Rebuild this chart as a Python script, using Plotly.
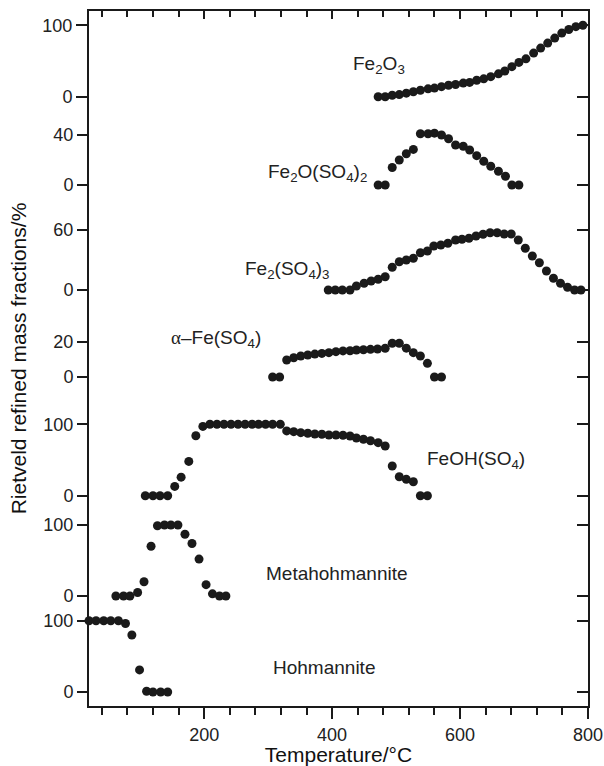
import plotly.graph_objects as go

# ---- Rietveld-refined mass fractions (%) vs. temperature (°C) ----
hoh_T = [20, 31, 43, 54, 66, 77, 87, 99, 110, 120, 132, 143]
hoh_w = [100, 100, 100, 100, 100, 96, 80, 31, 1, 0, 0, 0]

meta_T = [62, 74, 84, 96, 106, 117, 127, 138, 148, 159, 170, 181, 192, 203, 213, 224, 234]
meta_w = [0, 0, 0, 5, 20, 70, 99, 100, 100, 100, 87, 74, 52, 16, 3, 0, 0]

feoh_T = [108, 120, 131, 143, 154, 164, 176, 187, 198, 209, 220, 231, 242, 253, 264,
          275, 285, 296, 307, 319, 329, 340, 351, 362, 373, 384, 395, 406, 417, 428,
          438, 449, 460, 472, 483, 494, 505, 516, 527, 538, 549]
feoh_w = [0, 0, 0, 0, 13, 26, 48, 84, 97, 100, 100, 100, 100, 100, 100,
          100, 100, 100, 100, 100, 90.7, 89.7, 88.3, 87.4, 86.4, 86, 85, 85, 84.6, 83.6,
          80.8, 79, 77, 74.3, 69.6, 41.6, 26.6, 22.9, 19.6, 0, 0]

afeso4_T = [307, 318, 329, 340, 351, 362, 373, 384, 395, 406, 417, 428, 438, 449, 460,
            471, 483, 494, 505, 516, 527, 538, 549, 560, 571]
afeso4_w = [0, 0, 9.7, 11, 12, 12.6, 13.1, 13.5, 13.9, 14.5, 14.9, 15, 15.4, 15.6, 15.8,
            16, 16.4, 19.3, 19.3, 16.5, 13.9, 12, 7.8, 0, 0]

fe2so43_T = [394, 405, 416, 428, 438, 450, 461, 472, 483, 494, 505, 516, 527, 538, 549,
             559, 570, 581, 593, 603, 614, 625, 636, 647, 658, 669, 680, 691, 702, 713,
             724, 735, 746, 757, 768, 779, 789]
fe2so43_w = [0, 0, 0, 0, 4, 6.7, 9, 10.7, 13.3, 22.7, 28.3, 30, 31.7, 37.3, 39,
             44, 45, 46.7, 50, 50.7, 51.7, 54, 55.7, 57.3, 57.3, 56, 56, 50, 41.7, 34,
             27.3, 19, 11.7, 6.7, 2.7, 0, 0]

fe2oso42_T = [472, 483, 494, 505, 516, 527, 538, 550, 560, 571, 582, 593, 605, 615, 626,
              637, 648, 660, 671, 681, 692]
fe2oso42_w = [0, 0, 14, 20, 25, 28.5, 41, 41, 41.5, 40, 37, 32, 31, 28, 23.5,
              19, 15, 11, 7, 0, 0]

fe2o3_T = [472, 483, 494, 505, 516, 527, 538, 550, 560, 571, 582, 593, 605, 615, 626,
           637, 648, 660, 670, 681, 692, 703, 715, 726, 737, 748, 759, 770, 781, 792]
fe2o3_w = [0, 0, 2, 3, 5, 7, 9, 11, 12, 14, 16, 17, 19, 20, 23,
           25, 28, 32, 36, 42, 48, 53, 61, 68, 75, 82, 89, 94, 98, 100]

# panel order from top to bottom
phase_names = ["Fe<sub>2</sub>O<sub>3</sub>",
               "Fe<sub>2</sub>O(SO<sub>4</sub>)<sub>2</sub>",
               "Fe<sub>2</sub>(SO<sub>4</sub>)<sub>3</sub>",
               "<span style=\"font-family:Liberation Serif\">α</span>–Fe(SO<sub>4</sub>)",
               "FeOH(SO<sub>4</sub>)",
               "Metahohmannite",
               "Hohmannite"]
phase_T = [fe2o3_T, fe2oso42_T, fe2so43_T, afeso4_T, feoh_T, meta_T, hoh_T]
phase_w = [fe2o3_w, fe2oso42_w, fe2so43_w, afeso4_w, feoh_w, meta_w, hoh_w]
panel_ticks = [[0, 100], [0, 40], [0, 60], [0, 20], [0, 100], [0, 100], [0, 100]]

# label anchor for each phase, in that panel's own data units
label_T = [474, 377, 331, 218, 625, 408, 388]
label_w = [44, 9.6, 20, 21.7, 50, 32.4, 35]

# ---- geometry ----
W, H = 604, 766
M_L, M_R, M_T, M_B = 89, 16, 11, 60
# pixel row of each panel's zero line and its pixels per percent
panel_zero_px = [96.7, 185, 290, 377, 495.7, 596, 692]
panel_scale = [0.715, 1.25, 1.0, 1.75, 0.714, 0.71, 0.713]

FONT = "Liberation Sans, Arial, Helvetica, sans-serif"
INK = "#1a1a1a"


def panel_range(zero_px, scale):
    return [-(H - M_B - zero_px) / scale, (zero_px - M_T) / scale]


fig = go.Figure()
layout = dict(
    width=W, height=H,
    margin=dict(l=M_L, r=M_R, t=M_T, b=M_B, autoexpand=False),
    paper_bgcolor="white", plot_bgcolor="rgba(0,0,0,0)",
    showlegend=False,
    font=dict(family=FONT, color=INK),
    annotations=[],
)

for i in range(7):
    yid = "y" if i == 0 else f"y{i + 1}"
    rid = f"y{i + 8}"
    rng = panel_range(panel_zero_px[i], panel_scale[i])

    fig.add_trace(go.Scatter(
        x=phase_T[i], y=phase_w[i], xaxis="x", yaxis=yid,
        mode="markers", cliponaxis=False,
        marker=dict(size=9, color=INK, line=dict(width=0)),
        hoverinfo="x+y",
    ))
    # transparent twin on the right-hand axis so that axis gets drawn
    fig.add_trace(go.Scatter(
        x=phase_T[i], y=phase_w[i], xaxis="x", yaxis=rid,
        mode="markers", marker=dict(size=9, opacity=0),
        hoverinfo="skip",
    ))

    left = dict(
        range=rng, domain=[0, 1], anchor="x", side="left",
        tickmode="array", tickvals=panel_ticks[i],
        ticks="outside", ticklen=11, tickwidth=1.6, tickcolor=INK,
        tickfont=dict(size=18, color="#222", family=FONT),
        showgrid=False, zeroline=False,
        showline=(i == 0), linewidth=2, linecolor=INK,
        fixedrange=True,
    )
    if i > 0:
        left["overlaying"] = "y"
    else:
        left["title"] = dict(text="Rietveld refined mass fractions/%",
                             font=dict(size=21, color="#111", family=FONT),
                             standoff=10)
    layout["yaxis" if i == 0 else f"yaxis{i + 1}"] = left

    # mirrored ticks on the right-hand side, pointing into the plot
    layout[f"yaxis{i + 8}"] = dict(
        range=rng, anchor="x", side="right", overlaying="y",
        tickmode="array", tickvals=panel_ticks[i],
        ticks="inside", ticklen=11, tickwidth=1.6, tickcolor=INK,
        showticklabels=False, showgrid=False, zeroline=False,
        showline=(i == 0), linewidth=2, linecolor=INK,
        fixedrange=True,
    )

    layout["annotations"].append(dict(
        text=phase_names[i], x=label_T[i], y=label_w[i],
        xref="x", yref=yid, showarrow=False,
        xanchor="center", yanchor="middle",
        font=dict(size=19, color="#222", family=FONT),
    ))

layout["xaxis"] = dict(
    range=[20, 800], anchor="y", side="bottom",
    tick0=0, dtick=200, ticks="outside", ticklen=11, tickwidth=1.6, tickcolor=INK,
    minor=dict(tick0=0, dtick=40, ticks="outside", ticklen=7, tickwidth=1.6, tickcolor=INK),
    tickfont=dict(size=18, color="#222", family=FONT),
    showgrid=False, zeroline=False, showline=True, linewidth=2, linecolor=INK,
    title=dict(text="Temperature/°C", font=dict(size=21, color="#111", family=FONT),
               standoff=8),
    fixedrange=True,
)
# top frame with inward ticks
layout["xaxis2"] = dict(
    range=[20, 800], anchor="y", side="top", overlaying="x",
    tick0=0, dtick=200, ticks="inside", ticklen=8, tickwidth=1.6, tickcolor=INK,
    minor=dict(tick0=0, dtick=40, ticks="inside", ticklen=6, tickwidth=1.6, tickcolor=INK),
    showticklabels=False, showgrid=False, zeroline=False,
    showline=True, linewidth=2, linecolor=INK, fixedrange=True,
)
# transparent twin on the top axis so that axis gets drawn
fig.add_trace(go.Scatter(x=hoh_T, y=hoh_w, xaxis="x2", yaxis="y",
                         mode="markers", marker=dict(size=9, opacity=0),
                         hoverinfo="skip"))

fig.update_layout(**layout)
fig.write_html("out.html", config={"displayModeBar": False})
